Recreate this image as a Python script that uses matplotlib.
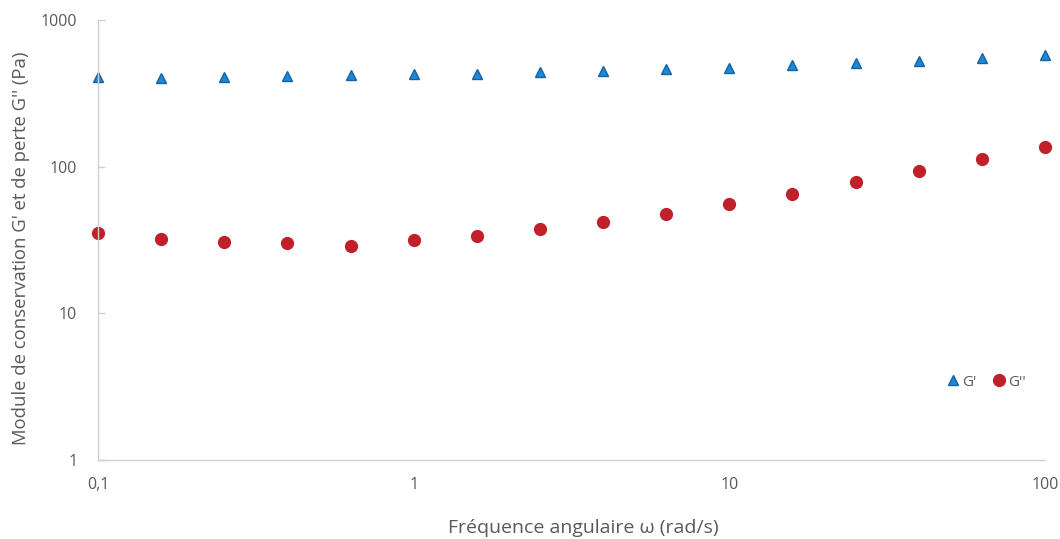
import matplotlib
matplotlib.use("Agg")
import matplotlib.pyplot as plt
from matplotlib.ticker import FixedLocator, FixedFormatter, NullLocator

# angular frequency (rad/s)
omega = [0.1, 0.158, 0.251, 0.398, 0.631, 1.0, 1.585, 2.512, 3.981, 6.31,
         10.0, 15.85, 25.12, 39.81, 63.1, 100.0]
# storage modulus G' (Pa)
g_storage = [408, 402, 408, 414, 421, 428, 428, 441, 448, 463,
             470, 493, 508, 524, 550, 577]
# loss modulus G'' (Pa)
g_loss = [35.3, 32.1, 30.6, 30.2, 28.8, 31.6, 33.7, 37.6, 41.9, 47.5,
          55.6, 65.0, 78.5, 93.3, 112.7, 136]

x_ticks = [0.1, 1, 10, 100]
x_tick_labels = ["0,1", "1", "10", "100"]
y_ticks = [1, 10, 100, 1000]
y_tick_labels = ["1", "10", "100", "1000"]

plt.rcParams["font.family"] = ["Open Sans", "DejaVu Sans"]
text_color = "#595959"
axis_color = "#d0d0d0"

fig = plt.figure(figsize=(10.6, 5.39), dpi=100)
ax = fig.add_axes([0.0925, 0.1466, 0.8933, 0.8163])

ax.plot(omega, g_storage, linestyle="none", marker="^", markersize=7,
        markerfacecolor="#1f88d6", markeredgecolor="#1263a6", markeredgewidth=1,
        label="G'", clip_on=False)
ax.plot(omega, g_loss, linestyle="none", marker="o", markersize=8.5,
        markerfacecolor="#c0202a", markeredgecolor="#c0202a",
        label="G''", clip_on=False)

ax.set_xscale("log")
ax.set_yscale("log")
ax.set_xlim(0.1, 100)
ax.set_ylim(1, 1000)

ax.xaxis.set_major_locator(FixedLocator(x_ticks))
ax.xaxis.set_major_formatter(FixedFormatter(x_tick_labels))
ax.xaxis.set_minor_locator(NullLocator())
ax.yaxis.set_major_locator(FixedLocator(y_ticks))
ax.yaxis.set_major_formatter(FixedFormatter(y_tick_labels))
ax.yaxis.set_minor_locator(NullLocator())

ax.tick_params(axis="both", labelsize=11.5, labelcolor=text_color)
ax.tick_params(axis="x", length=0, pad=12)
ax.tick_params(axis="y", direction="in", length=5, width=1, color=axis_color, pad=15)

for side in ("top", "right"):
    ax.spines[side].set_visible(False)
for side in ("left", "bottom"):
    ax.spines[side].set_color(axis_color)
    ax.spines[side].set_linewidth(1)

ax.set_xlabel("Fréquence angulaire ω (rad/s)", fontsize=14, color=text_color)
ax.set_ylabel("Module de conservation G' et de perte G'' (Pa)", fontsize=13.3,
              color=text_color)
ax.xaxis.set_label_coords(0.513, -0.135)
ax.yaxis.set_label_coords(-0.072, 0.48)

leg = ax.legend(loc="upper left", bbox_to_anchor=(0.88, 0.225), ncol=2,
                frameon=False, fontsize=11, handletextpad=0.1,
                columnspacing=1.0, handlelength=1.0)
for t in leg.get_texts():
    t.set_color(text_color)

fig.savefig("out.png", dpi=100)
